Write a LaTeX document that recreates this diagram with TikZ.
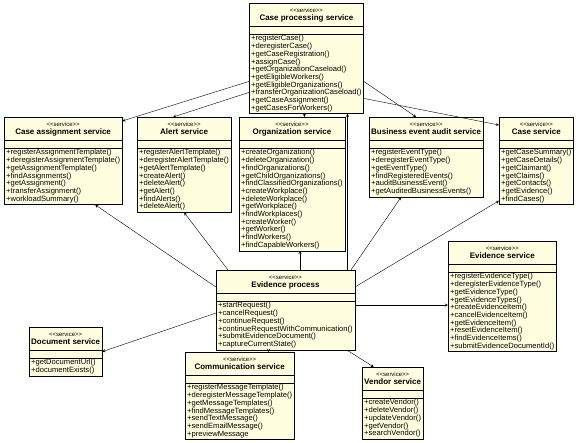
\documentclass[tikz,border=0pt]{standalone}
\usepackage{fontspec}
\setmainfont{Liberation Sans}
\usepackage{tikz}
\usetikzlibrary{shapes.multipart, arrows, calc, positioning}
\definecolor{svcfill}{RGB}{255,255,224}
\newcommand{\stereo}{<\kern0pt<service>\kern0pt>}
\newcommand{\opsfont}{\fontsize{7.6}{7.3}\selectfont}
\newcommand{\svcbox}[2]{%
  \begin{tabular}{@{}c@{}}\rule{0pt}{8pt}{\fontsize{6}{7}\selectfont\stereo}\\\rule[-5pt]{0pt}{5pt}{\fontsize{8}{9}\selectfont\bfseries #1}\end{tabular}%
  \nodepart{two}%
  \nodepart{three}\begin{tabular}{@{}l@{}}#2\end{tabular}}

\begin{document}
\begin{tikzpicture}[x=1pt, y=-1pt, arrow/.style = {-stealth}]
				\tikzset{svc/.style={draw=black, fill=svcfill, rectangle split, rectangle split parts=3, rectangle split part align={center,left,left}, rectangle split empty part height=1pt, rectangle split empty part depth=0pt, inner xsep=2pt, inner ysep=1pt, font=\opsfont, anchor=north west}}
				\useasboundingbox (0,0) rectangle (580,443);

				\node[svc] (cps) at (249,3) {\svcbox{Case processing service}{+registerCase()\\+deregisterCase()\\+getCaseRegistration()\\+assignCase()\\+getOrganizationCaseload()\\+getEligibleWorkers()\\+getEligibleOrganizations()\\+transferOrganizationCaseload()\\+getCaseAssignment()\\+getCasesForWorkers()}};

				\node[svc] (casg) at (4,117) {\svcbox{Case assignment service}{+registerAssignmentTemplate()\\+deregisterAssignmentTemplate()\\+getAssignmentTemplate()\\+findAssignments()\\+getAssignment()\\+transferAssignment()\\+workloadSummary()}};
				\node[svc] (alert) at (137,117) {\svcbox{Alert service}{+registerAlertTemplate()\\+deregisterAlertTemplate()\\+getAlertTemplate()\\+createAlert()\\+deleteAlert()\\+getAlert()\\+findAlerts()\\+deleteAlert()}};
				\node[svc] (org) at (239,117) {\svcbox{Organization service}{+createOrganization()\\+deleteOrganization()\\+findOrganizations()\\+getChildOrganizations()\\+findClassifiedOrganizations()\\+createWorkplace()\\+deleteWorkplace()\\+getWorkplace()\\+findWorkplaces()\\+createWorker()\\+getWorker()\\+findWorkers()\\+findCapableWorkers()}};
				\node[svc] (bea) at (369,117) {\svcbox{Business event audit service}{+registerEventType()\\+deregisterEventType()\\+getEventType()\\+findRegisteredEvents()\\+auditBusinessEvent()\\+getAuditedBusinessEvents()}};
				\node[svc] (case) at (499,117) {\svcbox{Case service}{+getCaseSummary()\\+getCaseDetails()\\+getClaimant()\\+getClaims()\\+getContacts()\\+getEvidence()\\+findCases()}};

				\node[svc] (ep) at (216,270) {\svcbox{Evidence process}{+startRequest()\\+cancelRequest()\\+continueRequest()\\+continueRequestWithCommunication()\\+submitEvidenceDocument()\\+captureCurrentState()}};
				\node[svc] (evs) at (448,241) {\svcbox{Evidence service}{+registerEvidenceType()\\+deregisterEvidenceType()\\+getEvidenceType()\\+getEvidenceTypes()\\+createEvidenceItem()\\+cancelEvidenceItem()\\+getEvidenceItem()\\+resetEvidenceItem()\\+findEvidenceItems()\\+submitEvidenceDocumentId()}};

				\node[svc] (doc) at (29,327) {\svcbox{Document service}{+getDocumentUrl()\\+documentExists()}};
				\node[svc] (comm) at (185,352) {\svcbox{Communication service}{+registerMessageTemplate()\\+deregisterMessageTemplate()\\+getMessageTemplates()\\+findMessageTemplates()\\+sendTextMessage()\\+sendEmailMessage()\\+previewMessage}};
				\node[svc] (vendor) at (362,367) {\svcbox{Vendor service}{+createVendor()\\+deleteVendor()\\+updateVendor()\\+getVendor()\\+searchVendor()}};

				% case processing service
				\draw [arrow] ([yshift=-23pt]cps.west) -- ([yshift=-4pt]casg.north east);
				\draw [arrow] ([yshift=-34pt]cps.west) -- ([xshift=-11pt]alert.north);
				\draw [arrow] ([xshift=-2pt]cps.south) -- ([xshift=-2pt]cps.south |- org.north);
				\draw [arrow] ([yshift=-23pt]cps.east) -- ([xshift=-10pt]bea.north);
				\draw [arrow] ([yshift=-40pt]cps.east) -- ([yshift=-8pt]case.north west);

				% evidence process
				\draw [arrow] ([yshift=23pt]ep.west) -- ([xshift=32pt]casg.south);
				\draw [arrow] ([xshift=12pt]ep.north west) -- (alert.south);
				\draw [arrow] ([xshift=8pt]org.south |- ep.north) -- ([xshift=8pt]org.south);
				\draw [arrow] ([xshift=41pt]cps.south |- ep.north) -- ([xshift=41pt]cps.south);
				\draw [arrow] ([xshift=-4pt]ep.north east) -- ([xshift=-25pt]bea.south);
				\draw [arrow] ([yshift=23pt]ep.east) -- ([yshift=4pt]case.south west);
				\draw [arrow] ([yshift=5pt]ep.east) -- ([yshift=5pt]ep.east -| evs.west);
				\draw [arrow] ([xshift=-8pt]ep.south east) -- ([xshift=-19pt]vendor.north);
				\draw [arrow] ([xshift=-17pt]ep.south) -- ([xshift=-17pt]ep.south |- comm.north);
				\draw [arrow] ([yshift=-3pt]ep.west) -- (doc.east);

			\end{tikzpicture}
\end{document}
